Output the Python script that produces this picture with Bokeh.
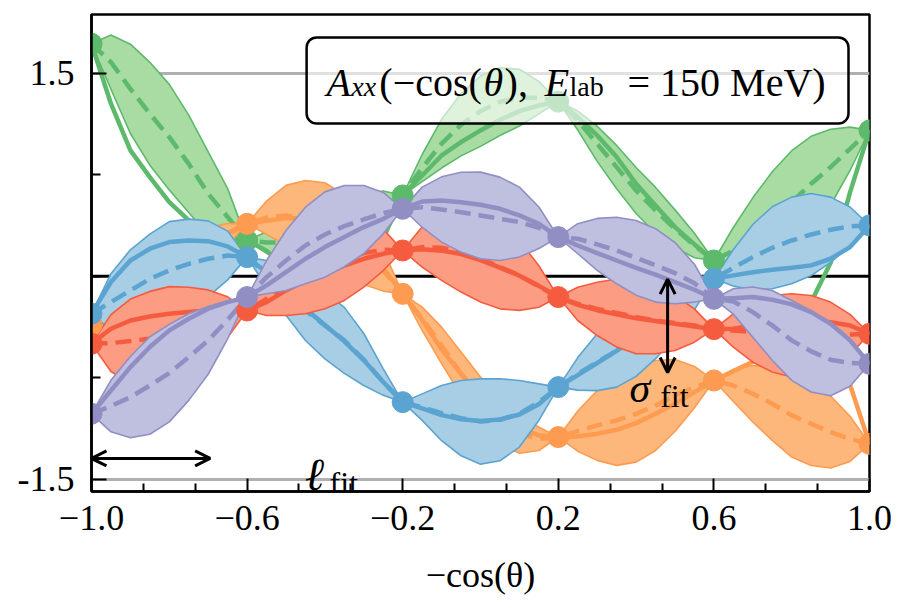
from bokeh.plotting import figure
from bokeh.models import (FixedTicker, Span, BoxAnnotation, Label, Arrow, OpenHead, Range1d,
                          CustomJSTickFormatter)
from bokeh.embed import file_html
from bokeh.resources import INLINE

# ---------------- data ----------------
X = [round(-1 + 0.05 * i, 2) for i in range(41)]
X_TRAIN = [-1.0, -0.6, -0.2, 0.2, 0.6, 1.0]
X_TICKS = [-1.0, -0.6, -0.2, 0.2, 0.6, 1.0]
X_TICK_LABELS = ["\u22121.0", "\u22120.6", "\u22120.2", "0.2", "0.6", "1.0"]
Y_TICKS = [-1.5, 1.5]
Y_TICK_LABELS = ["-1.5", "1.5"]

GREEN_MEAN = [1.718, 1.582, 1.385, 1.201, 1.028, 0.831, 0.610, 0.438, 0.265,
              0.25, 0.25, 0.27, 0.31, 0.37, 0.45, 0.53, 0.598,
              0.80, 0.98, 1.12, 1.22, 1.29, 1.32, 1.32, 1.29,
              1.151, 0.979, 0.807, 0.634, 0.487, 0.351, 0.228, 0.117,
              0.191, 0.290, 0.413, 0.548, 0.684, 0.807, 0.942, 1.078]
GREEN_TRUE = [1.718, 1.275, 0.930, 0.733, 0.548, 0.413, 0.339, 0.290, 0.265,
              0.19, 0.05, -0.08, -0.15, -0.15, 0.00, 0.28, 0.598,
              0.745, 0.893, 0.991, 1.078, 1.156, 1.220, 1.262, 1.29,
              1.176, 1.041, 0.881, 0.684, 0.524, 0.364, 0.236, 0.117,
              0.02, -0.08, -0.15, -0.19, -0.19, 0.10, 0.62, 1.078]
GREEN_HALF = [0, 0.20, 0.33, 0.38, 0.39, 0.36, 0.31, 0.21, 0,
              0.08, 0.14, 0.18, 0.20, 0.19, 0.16, 0.10, 0,
              0.10, 0.18, 0.23, 0.26, 0.25, 0.21, 0.12, 0,
              0.07, 0.13, 0.16, 0.17, 0.17, 0.14, 0.09, 0,
              0.17, 0.29, 0.36, 0.38, 0.35, 0.28, 0.16, 0]

ORANGE_MEAN = [-0.36, -0.28, -0.18, -0.07, 0.04, 0.14, 0.23, 0.31, 0.388,
               0.433, 0.450, 0.425, 0.376, 0.302, 0.191, 0.044, -0.129,
               -0.313, -0.510, -0.719, -0.916, -1.064, -1.163, -1.200, -1.187,
               -1.143, -1.101, -1.064, -1.015, -0.954, -0.880, -0.818, -0.769,
               -0.806, -0.867, -0.941, -1.027, -1.089, -1.150, -1.200, -1.237]
ORANGE_TRUE = [-0.36, -0.25, -0.14, -0.04, 0.06, 0.15, 0.24, 0.32, 0.388,
               0.41, 0.43, 0.43, 0.40, 0.33, 0.22, 0.06, -0.129,
               -0.32, -0.54, -0.72, -0.88, -1.02, -1.12, -1.175, -1.187,
               -1.182, -1.163, -1.133, -1.084, -1.015, -0.941, -0.855, -0.769,
               -0.70, -0.63, -0.57, -0.53, -0.53, -0.60, -0.80, -1.237]
ORANGE_HALF = [0, 0.09, 0.14, 0.16, 0.17, 0.16, 0.13, 0.08, 0,
               0.123, 0.222, 0.283, 0.315, 0.300, 0.251, 0.153, 0,
               0.086, 0.135, 0.160, 0.172, 0.167, 0.143, 0.086, 0,
               0.148, 0.258, 0.332, 0.357, 0.332, 0.266, 0.153, 0,
               0.118, 0.209, 0.271, 0.308, 0.308, 0.266, 0.167, 0]

BLUE_MEAN = [-0.276, -0.190, -0.104, -0.018, 0.044, 0.093, 0.130, 0.154, 0.142,
             0.019, -0.116, -0.252, -0.363, -0.473, -0.614, -0.781, -0.929,
             -0.966, -1.010, -1.047, -1.072, -1.059, -1.015, -0.929, -0.818,
             -0.720, -0.634, -0.548, -0.449, -0.338, -0.227, -0.116, -0.018,
             0.063, 0.142, 0.211, 0.265, 0.309, 0.344, 0.369, 0.376]
BLUE_TRUE = [-0.276, -0.042, 0.117, 0.204, 0.253, 0.265, 0.260, 0.221, 0.142,
             0.03, -0.10, -0.24, -0.36, -0.48, -0.62, -0.78, -0.929,
             -0.975, -1.025, -1.055, -1.068, -1.058, -1.02, -0.945, -0.818,
             -0.73, -0.64, -0.55, -0.45, -0.34, -0.23, -0.12, -0.018,
             0.007, 0.031, 0.049, 0.063, 0.081, 0.130, 0.216, 0.376]
BLUE_HALF = [0, 0.21, 0.30, 0.33, 0.36, 0.33, 0.28, 0.18, 0,
             0.098, 0.172, 0.222, 0.246, 0.244, 0.192, 0.098, 0,
             0.098, 0.204, 0.278, 0.315, 0.303, 0.246, 0.135, 0,
             0.12, 0.21, 0.27, 0.29, 0.27, 0.22, 0.13, 0,
             0.135, 0.241, 0.303, 0.320, 0.303, 0.241, 0.143, 0]

RED_MEAN = [-0.498, -0.493, -0.478, -0.461, -0.436, -0.400, -0.350, -0.301, -0.252,
            -0.166, -0.067, 0.007, 0.076, 0.122, 0.172, 0.196, 0.191,
            0.216, 0.211, 0.179, 0.130, 0.068, 0.007, -0.075, -0.153,
            -0.203, -0.240, -0.271, -0.301, -0.326, -0.345, -0.363, -0.390,
            -0.400, -0.412, -0.424, -0.436, -0.436, -0.436, -0.429, -0.424]
RED_TRUE = [-0.498, -0.387, -0.326, -0.296, -0.276, -0.264, -0.252, -0.244, -0.252,
            -0.190, -0.104, -0.030, 0.031, 0.080, 0.130, 0.167, 0.191,
            0.20, 0.19, 0.165, 0.12, 0.065, 0.005, -0.07, -0.153,
            -0.21, -0.25, -0.28, -0.31, -0.33, -0.35, -0.37, -0.390,
            -0.387, -0.363, -0.338, -0.326, -0.326, -0.338, -0.363, -0.424]
RED_HALF = [0, 0.21, 0.31, 0.35, 0.36, 0.32, 0.25, 0.15, 0,
            0.123, 0.222, 0.283, 0.315, 0.300, 0.251, 0.153, 0,
            0.148, 0.241, 0.295, 0.320, 0.308, 0.258, 0.153, 0,
            0.123, 0.197, 0.251, 0.271, 0.246, 0.202, 0.123, 0,
            0.123, 0.222, 0.283, 0.308, 0.295, 0.246, 0.148, 0]

PURPLE_MEAN = [-1.015, -0.958, -0.892, -0.806, -0.715, -0.596, -0.473, -0.321, -0.153,
               -0.006, 0.117, 0.228, 0.309, 0.371, 0.420, 0.467, 0.499,
               0.511, 0.494, 0.474, 0.450, 0.425, 0.401, 0.359, 0.290,
               0.278, 0.236, 0.191, 0.137, 0.081, 0.024, -0.050, -0.166,
               -0.185, -0.264, -0.362, -0.473, -0.554, -0.616, -0.640, -0.646]
PURPLE_TRUE = [-1.015, -0.843, -0.670, -0.522, -0.399, -0.313, -0.239, -0.190, -0.153,
               -0.067, 0.031, 0.130, 0.216, 0.290, 0.364, 0.425, 0.499,
               0.553, 0.561, 0.548, 0.529, 0.499, 0.450, 0.388, 0.290,
               0.228, 0.172, 0.117, 0.063, 0.012, -0.042, -0.099, -0.166,
               -0.161, -0.153, -0.173, -0.207, -0.264, -0.350, -0.473, -0.646]
PURPLE_HALF = [0, 0.19, 0.30, 0.36, 0.36, 0.32, 0.25, 0.14, 0,
               0.123, 0.222, 0.283, 0.315, 0.300, 0.251, 0.153, 0,
               0.148, 0.241, 0.295, 0.320, 0.308, 0.258, 0.153, 0,
               0.111, 0.192, 0.246, 0.276, 0.271, 0.226, 0.140, 0,
               0.094, 0.185, 0.258, 0.295, 0.300, 0.266, 0.172, 0]

SERIES = [
    (GREEN_MEAN, GREEN_TRUE, GREEN_HALF, "#5db96b", "#a9dca3"),
    (ORANGE_MEAN, ORANGE_TRUE, ORANGE_HALF, "#fd9b50", "#fdb77a"),
    (BLUE_MEAN, BLUE_TRUE, BLUE_HALF, "#5ba4d1", "#a7cee4"),
    (RED_MEAN, RED_TRUE, RED_HALF, "#f55c3f", "#fb9c83"),
    (PURPLE_MEAN, PURPLE_TRUE, PURPLE_HALF, "#918ec3", "#bfbfdf"),
]

# ---------------- figure ----------------
SERIF = "Liberation Serif"
p = figure(width=901, height=608, output_backend="svg", toolbar_location=None,
           x_range=Range1d(-1.0, 1.0), y_range=Range1d(-1.589, 1.934),
           min_border_left=91, min_border_right=32, min_border_top=14, min_border_bottom=117)
p.background_fill_color = "white"
p.border_fill_color = "white"
p.outline_line_color = "black"
p.outline_line_width = 2.5
p.outline_line_alpha = 1.0
p.xgrid.visible = False

xt = FixedTicker(ticks=X_TICKS,
                 minor_ticks=[-0.8667, -0.7333, -0.4667, -0.3333, -0.0667, 0.0667,
                              0.3333, 0.4667, 0.7333, 0.8667])
yt = FixedTicker(ticks=Y_TICKS, minor_ticks=[-0.75, 0.0, 0.75])
p.xaxis.ticker = xt
p.yaxis.ticker = yt
p.ygrid.ticker = yt
p.ygrid.grid_line_color = "#b0b0b0"
p.ygrid.grid_line_width = 3

LOOKUP = ("for (let i = 0; i < tv.length; i++) {"
          "  if (Math.abs(tick - tv[i]) < 1e-6) { return tl[i]; } }"
          "return '';")
p.xaxis.formatter = CustomJSTickFormatter(args=dict(tv=X_TICKS, tl=X_TICK_LABELS), code=LOOKUP)
p.yaxis.formatter = CustomJSTickFormatter(args=dict(tv=Y_TICKS, tl=Y_TICK_LABELS), code=LOOKUP)

for ax in (p.xaxis[0], p.yaxis[0]):
    ax.axis_line_width = 2.5
    ax.axis_line_color = "black"
    ax.major_tick_out = 0
    ax.minor_tick_out = 0
    ax.major_tick_line_width = 2
    ax.minor_tick_line_width = 2
    ax.major_label_text_font = SERIF
    ax.major_label_text_font_size = "36px"
    ax.major_label_text_color = "black"
p.xaxis.major_tick_in = 13
p.xaxis.minor_tick_in = 8
p.yaxis.major_tick_in = 15
p.yaxis.minor_tick_in = 9
p.xaxis.major_label_standoff = 14
p.yaxis.major_label_standoff = 17
p.xaxis.axis_label = "\u2212cos(\u03b8)"
p.xaxis.axis_label_text_font = SERIF
p.xaxis.axis_label_text_font_size = "36px"
p.xaxis.axis_label_text_font_style = "normal"
p.xaxis.axis_label_text_color = "black"
p.xaxis.axis_label_standoff = 22

p.add_layout(Span(location=0, dimension="width", line_color="black", line_width=3,
                  level="underlay"))

# ---------------- series ----------------
for mean, true, half, col, fill in SERIES:
    upper = [m + h for m, h in zip(mean, half)]
    lower = [m - h for m, h in zip(mean, half)]
    p.varea(x=X, y1=lower, y2=upper, fill_color=fill, fill_alpha=1.0)
    p.line(X, upper, line_color=col, line_width=1.6, line_join="round")
    p.line(X, lower, line_color=col, line_width=1.6, line_join="round")
    p.line(X, true, line_color=col, line_width=4.5, line_join="round")
    p.line(X, mean, line_color=col, line_width=4.5, line_dash="16 8", line_join="round")

for mean, true, half, col, fill in SERIES:
    p.scatter(X_TRAIN, mean[::8], size=21, fill_color=col, line_color=col)

# ---------------- annotations ----------------
box = BoxAnnotation(left=-0.447, right=0.946, top=1.764, bottom=1.129,
                    fill_color="white", fill_alpha=0.62, line_color="black", line_alpha=1.0,
                    line_width=2.5, border_radius=10)
p.add_layout(box)

def lab(x, y, t, size, style="normal"):
    p.add_layout(Label(x=x, y=y, text=t, text_font=SERIF, text_font_size=size,
                       text_font_style=style, text_color="black",
                       text_baseline="alphabetic", text_align="left"))

lab(-0.396, 1.432, "A", "40px", "italic")
lab(-0.332, 1.400, "xx", "28px", "italic")
lab(-0.260, 1.432, "(\u2212cos(", "40px")
lab(0.008, 1.432, "\u03b8", "40px", "italic")
lab(0.062, 1.432, "),", "40px")
lab(0.165, 1.432, "E", "40px", "italic")
lab(0.229, 1.400, "lab", "28px")
lab(0.378, 1.432, "= 150 MeV)", "40px")

lab(-0.452, -1.463, "\u2113", "46px", "italic")
lab(-0.388, -1.529, "fit", "32px")
lab(0.383, -0.828, "\u03c3", "42px", "italic")
lab(0.462, -0.885, "fit", "32px")

p.add_layout(Arrow(start=OpenHead(size=15, line_width=3), end=OpenHead(size=15, line_width=3),
                   x_start=-1.0, y_start=-1.345, x_end=-0.695, y_end=-1.345,
                   line_width=3, line_color="black"))
p.add_layout(Arrow(start=OpenHead(size=15, line_width=3), end=OpenHead(size=15, line_width=3),
                   x_start=0.481, y_start=-0.02, x_end=0.481, y_end=-0.71,
                   line_width=3, line_color="black"))

open("out.html", "w").write(file_html(p, INLINE))
